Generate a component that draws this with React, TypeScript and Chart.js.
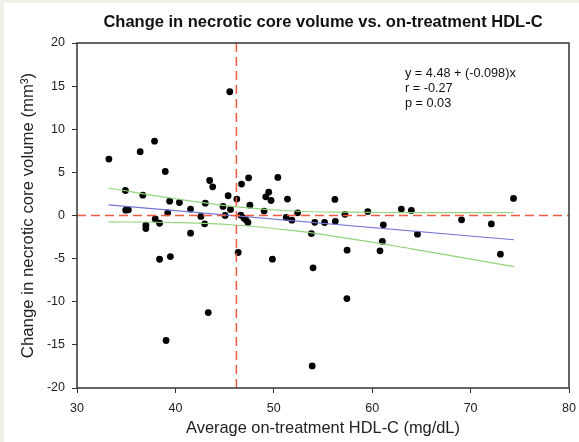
import React, { useEffect, useRef } from "react";
import { Chart, registerables } from "chart.js";

Chart.register(...registerables);

// Observed data (Average on-treatment HDL-C, change in necrotic core volume)
const hdlX: number[] = [
  33.24, 34.92, 34.95, 35.22, 36.42, 36.69, 37.0, 37.0, 37.88, 37.95,
  38.39, 38.39, 38.97, 39.05, 39.22, 39.42, 39.49, 40.41, 41.54, 41.54,
  42.59, 42.97, 43.04, 43.34, 43.48, 43.79, 44.84, 45.05, 45.36, 45.53,
  45.6, 46.24, 46.38, 46.65, 46.72, 46.96, 47.16, 47.37, 47.44, 47.57,
  49.01, 49.18, 49.48, 49.72, 49.86, 50.41, 51.26, 51.39, 51.84, 52.42,
  53.82, 53.9, 53.99, 54.16, 55.16, 56.21, 56.25, 57.23, 57.43, 57.45,
  59.55, 60.79, 61.03, 61.13, 62.96, 63.98, 64.6, 69.08, 72.11, 73.03,
  74.36,
];
const coreChange: number[] = [
  6.54, 2.9, 0.62, 0.66, 7.39, 2.36, -1.12, -1.51, 8.62, -0.4,
  -0.9, -5.07, 5.1, -14.49, 0.31, 1.66, -4.76, 1.51, 0.74, -2.05,
  -0.11, -0.97, 1.43, -11.25, 4.06, 3.33, 1.05, 0.0, 2.29, 14.35,
  0.7, 1.9, -4.29, 0.04, 3.64, -0.3, -0.5, -0.8, 4.37, 1.2,
  0.51, 2.17, 2.71, 1.74, -5.06, 4.41, -0.23, 1.9, -0.54, 0.31,
  -2.1, -17.44, -6.07, -0.79, -0.81, 1.86, -0.67, 0.14, -9.63, -4.02,
  0.45, -4.1, -3.01, -1.08, 0.74, 0.58, -2.17, -0.5, -0.98, -4.48,
  1.98,
];

// Regression line and confidence band
const fitX: number[] = [33.2, 74.4];
const fitY: number[] = [1.23, -2.81];
const bandX: number[] = [33.2, 40, 46, 52, 58, 64, 70, 74.4];
const bandUpper: number[] = [3.19, 1.94, 1.04, 0.52, 0.38, 0.34, 0.34, 0.35];
const bandLower: number[] = [-0.73, -0.82, -1.1, -1.76, -2.73, -3.86, -5.05, -5.93];

// Reference lines
const refX: number = 46.2;
const refY: number = 0;

// Axis ranges / ticks
const xMin = 30, xMax = 80, xStep = 10;
const yMin = -20, yMax = 20, yStep = 5;

const titleText = "Change in necrotic core volume vs. on-treatment HDL-C";
const xTitle = "Average on-treatment HDL-C (mg/dL)";
const yTitle = "Change in necrotic core volume (mm\u00B3)";
const statLines: string[] = ["y = 4.48 + (-0.098)x", "r = -0.27", "p = 0.03"];

const FONT = "'Liberation Sans', Arial, Helvetica, sans-serif";

export default function App() {
  const ref = useRef<HTMLCanvasElement | null>(null);

  useEffect(() => {
    document.body.style.margin = "0";
    document.body.style.overflow = "hidden";
    document.documentElement.style.overflow = "hidden";
    if (!ref.current) return;
    const pts = hdlX.map((x, i) => ({ x, y: coreChange[i] }));
    const fit = fitX.map((x, i) => ({ x, y: fitY[i] }));
    const up = bandX.map((x, i) => ({ x, y: bandUpper[i] }));
    const lo = bandX.map((x, i) => ({ x, y: bandLower[i] }));

    const bgPlugin = {
      id: "bg",
      beforeDraw(chart: any) {
        const { ctx, width, height } = chart;
        ctx.save();
        ctx.fillStyle = "#eff0e8";
        ctx.fillRect(0, 0, width, height);
        ctx.fillStyle = "#ffffff";
        ctx.fillRect(4, 3, width - 4, height - 3);
        ctx.restore();
      },
    };

    const framePlugin = {
      id: "frame",
      afterDatasetsDraw(chart: any) {
        const { ctx, chartArea } = chart;
        const xs = chart.scales.x;
        const ys = chart.scales.y;
        ctx.save();
        // reference lines
        ctx.strokeStyle = "#f15a3e";
        ctx.lineWidth = 1.5;
        ctx.setLineDash([9, 5]);
        const px = xs.getPixelForValue(refX);
        ctx.beginPath();
        ctx.moveTo(px, chartArea.top);
        ctx.lineTo(px, chartArea.bottom);
        ctx.stroke();
        const py = ys.getPixelForValue(refY);
        ctx.beginPath();
        ctx.moveTo(chartArea.left, py);
        ctx.lineTo(chartArea.right, py);
        ctx.stroke();
        ctx.setLineDash([]);
        // frame
        ctx.strokeStyle = "#333333";
        ctx.lineWidth = 1.5;
        ctx.strokeRect(chartArea.left, chartArea.top, chartArea.right - chartArea.left, chartArea.bottom - chartArea.top);
        // title
        ctx.fillStyle = "#111111";
        ctx.font = "bold 16.5px " + FONT;
        ctx.textAlign = "center";
        ctx.textBaseline = "middle";
        ctx.fillText(titleText, (chartArea.left + chartArea.right) / 2, 22);
        // stats
        ctx.font = "12.7px " + FONT;
        ctx.textAlign = "left";
        statLines.forEach((s, i) => {
          ctx.fillText(s, 405, 73 + i * 15);
        });
        ctx.restore();
      },
    };

    const chart = new Chart(ref.current, {
      type: "scatter",
      data: {
        datasets: [
          {
            type: "line",
            data: up,
            borderColor: "#93d47a",
            borderWidth: 1.2,
            pointRadius: 0,
            fill: false,
            tension: 0.4,
          },
          {
            type: "line",
            data: lo,
            borderColor: "#93d47a",
            borderWidth: 1.2,
            pointRadius: 0,
            fill: false,
            tension: 0.4,
          },
          {
            type: "line",
            data: fit,
            borderColor: "#7474d6",
            borderWidth: 1.2,
            pointRadius: 0,
            fill: false,
          },
          {
            data: pts,
            backgroundColor: "#000000",
            borderColor: "#000000",
            pointRadius: 3.4,
            pointBorderWidth: 0,
          },
        ],
      },
      options: {
        animation: false,
        responsive: false,
        devicePixelRatio: 1,
        layout: { padding: { top: 43, left: 0, right: 10, bottom: 0 } },
        plugins: {
          legend: { display: false },
          tooltip: { enabled: false },
          title: { display: false },
        },
        scales: {
          x: {
            type: "linear",
            min: xMin,
            max: xMax,
            ticks: { stepSize: xStep, color: "#222", font: { family: FONT, size: 12.5 }, padding: 8 },
            grid: { display: true, drawOnChartArea: false, drawTicks: true, tickLength: 5, color: "#333" },
            border: { display: false },
            title: { display: true, text: xTitle, color: "#222", font: { family: FONT, size: 16.4 }, padding: { top: 0, bottom: 4 } },
            afterFit(scale: any) {
              scale.height = 54;
              scale.paddingLeft = 0;
              scale.paddingRight = 0;
            },
          },
          y: {
            type: "linear",
            min: yMin,
            max: yMax,
            ticks: { stepSize: yStep, color: "#222", font: { family: FONT, size: 12.5 }, padding: 7 },
            grid: { display: true, drawOnChartArea: false, drawTicks: true, tickLength: 5, color: "#333" },
            border: { display: false },
            title: { display: true, text: yTitle, color: "#222", font: { family: FONT, size: 16.8 }, padding: { top: 18, bottom: 0 } },
            afterFit(scale: any) {
              scale.width = 77;
              scale.paddingTop = 0;
              scale.paddingBottom = 0;
            },
          },
        },
      },
      plugins: [bgPlugin, framePlugin],
    });
    return () => chart.destroy();
  }, []);

  return (
    <div style={{ width: 579, height: 442, overflow: "hidden" }}>
      <canvas ref={ref} width={579} height={442} style={{ display: "block", width: 579, height: 442 }} />
    </div>
  );
}
